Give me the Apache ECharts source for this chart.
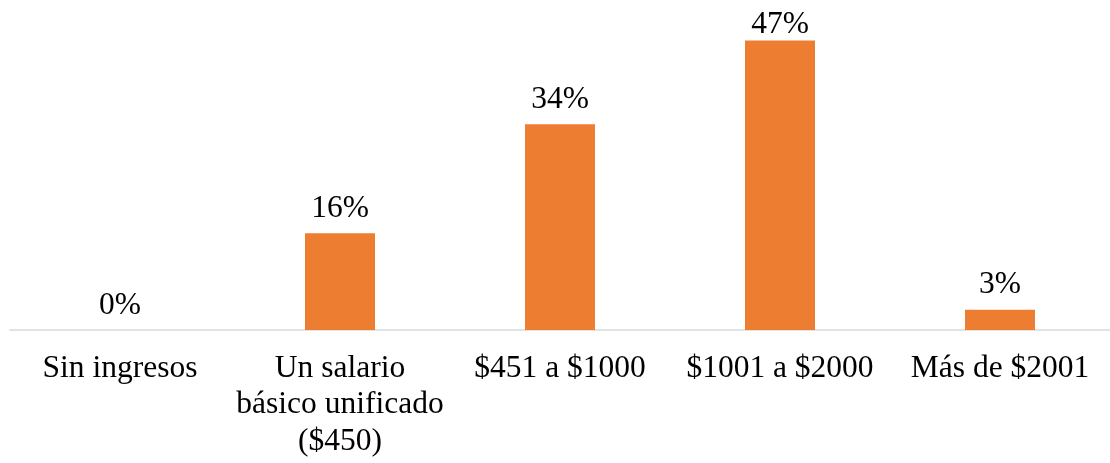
<!DOCTYPE html>
<html>
<head>
<meta charset="utf-8">
<script src="https://cdn.jsdelivr.net/npm/echarts@6/dist/echarts.min.js"></script>
<style>
  html, body { margin: 0; padding: 0; background: #fff; }
  #chart { width: 1110px; height: 463px; }
</style>
</head>
<body>
<div id="chart"></div>
<script>
const categories = ['Sin ingresos', 'Un salario\nbásico unificado\n($450)', '$451 a $1000', '$1001 a $2000', 'Más de $2001'];
const shares = [0, 15.8, 33.6, 47.3, 3.3];

const font = "'Liberation Serif', 'Times New Roman', serif";

const chart = echarts.init(document.getElementById('chart'), null, { renderer: 'canvas' });

const option = {
  animation: false,
  grid: { left: 10, right: 0, top: 24, bottom: 133 },
  xAxis: {
    type: 'category',
    data: categories,
    axisLine: { show: true, lineStyle: { color: '#d9d9d9', width: 1.5 } },
    axisTick: { show: false },
    axisLabel: {
      interval: 0,
      margin: 20,
      color: '#000',
      fontFamily: font,
      fontSize: 31.5,
      lineHeight: 36.5
    }
  },
  yAxis: {
    type: 'value',
    min: 0,
    max: 50,
    show: false,
    splitLine: { show: false }
  },
  series: [{
    type: 'bar',
    barWidth: 70,
    itemStyle: { color: '#ed7d31' },
    data: shares.map((v, i) => i === 3 ? { value: v, label: { distance: 0 } } : v),
    label: {
      show: true,
      position: 'top',
      distance: 9,
      color: '#000',
      fontFamily: font,
      fontSize: 31.5,
      lineHeight: 31.5,
      formatter: p => Math.round(p.value) + '%'
    }
  }]
};

chart.setOption(option);
</script>
</body>
</html>
